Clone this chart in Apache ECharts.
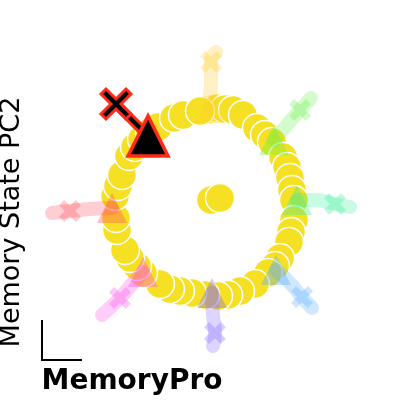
<!DOCTYPE html>
<html><head><meta charset="utf-8">
<script src="https://cdn.jsdelivr.net/npm/echarts@6/dist/echarts.min.js"></script>
<style>html,body{margin:0;padding:0;background:#fff}#c{width:400px;height:400px}</style>
</head><body><div id="c"></div>
<script>
// Ring of fixed points (plot units, y down)
const ringPoints = [[207,110],[217,108],[225,109],[233,110],[243,115],[257,128],[265,135],[272,142],[283,157],[287,167],[290,178],[292,190],[294,200],[294,220],[291,232],[289,242],[280,258],[275,266],[268,273],[255,284],[240,291],[228,295],[218,296],[205,295],[192,293],[180,291],[170,289],[160,284],[143,273],[137,266],[130,258],[125,250],[117,230],[116,218],[115,196],[118,186],[122,175],[129,156],[135,147],[142,139],[150,132],[158,127],[174,118],[183,115],[200,111]];
const centerPoints = [[211,200],[220,198]];

// Faded trajectories: start (X) -> end (triangle)
const trajNames = ['yellow','green','teal','blue','purple','pink','red'];
const trajColors = ['rgb(255,205,40)','rgb(100,240,70)','rgb(50,240,150)','rgb(80,170,255)','rgb(130,100,255)','rgb(255,70,230)','rgb(255,75,90)'];
const trajPaths = [
  [[216,52],[211,62],[211,80],[210,100],[210,108]],
  [[311,98],[300,110],[287,125],[274,140]],
  [[350,207],[335,204],[315,200],[297,200]],
  [[312,308],[302,297],[290,283],[276,270]],
  [[213,346],[215,333],[213,315],[212,293]],
  [[102,315],[120,298],[133,283],[143,272]],
  [[52,213],[70,211],[90,209],[112,208]]
];
// Highlighted trajectory
const hiPath = [[116,104],[130,118],[148,136]];

const X_FAT = 'path://M-3,-1.6 L-1.6,-3 L0,-1.4 L1.6,-3 L3,-1.6 L1.4,0 L3,1.6 L1.6,3 L0,1.4 L-1.6,3 L-3,1.6 L-1.4,0 Z';
const X_THIN = 'path://M-3,-2 L-2,-3 L0,-1 L2,-3 L3,-2 L1,0 L3,2 L2,3 L0,1 L-2,3 L-3,2 L-1,0 Z';

const series = [];
series.push({type:'scatter', data: ringPoints, symbolSize: 29, z: 2,
  itemStyle:{color:'#f6e024', borderColor:'#fff', borderWidth:1.5, opacity:1}});
series.push({type:'scatter', data: centerPoints, symbolSize: 29, z: 2,
  itemStyle:{color:'#f6e024', borderColor:'#fff', borderWidth:1.5, opacity:1}});
trajPaths.forEach((p, i) => {
  series.push({type:'line', name: trajNames[i], data: p, smooth: true, showSymbol:false, z: 3,
    lineStyle:{color: trajColors[i], width: 14, opacity: 0.27, cap:'round', join:'round'}});
  series.push({type:'scatter', data:[p[1]], symbol: X_FAT, symbolSize: 22, z: 4,
    itemStyle:{color: trajColors[i], opacity: 0.3}});
  series.push({type:'scatter', data:[p[p.length-1]], symbol:'triangle', symbolSize: 30, z: 4,
    itemStyle:{color: trajColors[i], opacity: 0.35}});
});
series.push({type:'line', data: hiPath, showSymbol:false, z: 5,
  lineStyle:{color:'#ff2a1a', width: 10, cap:'round'}});
series.push({type:'line', data: hiPath, showSymbol:false, z: 6,
  lineStyle:{color:'#000', width: 4, cap:'round'}});
series.push({type:'scatter', data:[hiPath[0]], symbol: X_THIN, symbolSize: 30, z: 7,
  itemStyle:{color:'#000', borderColor:'#ff2a1a', borderWidth:3, opacity:1}});
series.push({type:'scatter', data:[hiPath[hiPath.length-1]], symbol:'triangle', symbolSize: 40, z: 7,
  itemStyle:{color:'#000', borderColor:'#ff2a1a', borderWidth:3.5, opacity:1}});

const chart = echarts.init(document.getElementById('c'), null, {renderer:'canvas'});
chart.setOption({
  animation:false,
  grid:{left:0,right:0,top:0,bottom:0},
  xAxis:{type:'value',min:0,max:400,show:false},
  yAxis:{type:'value',min:0,max:400,inverse:true,show:false},
  series: series,
  graphic:[
    {type:'polyline', shape:{points:[[42,320],[42,360],[82,360]]}, style:{stroke:'#000', lineWidth:2, fill:null}},
    {type:'text', x:132, y:382, style:{text:'MemoryPro', font:'bold 28px "DejaVu Sans"', fill:'#000', align:'center', verticalAlign:'middle'}},
    {type:'text', x:12, y:222, rotation:Math.PI/2, style:{text:'Memory State PC2', font:'27px "DejaVu Sans"', fill:'#000', align:'center', verticalAlign:'middle'}}
  ]
});
</script></body></html>
